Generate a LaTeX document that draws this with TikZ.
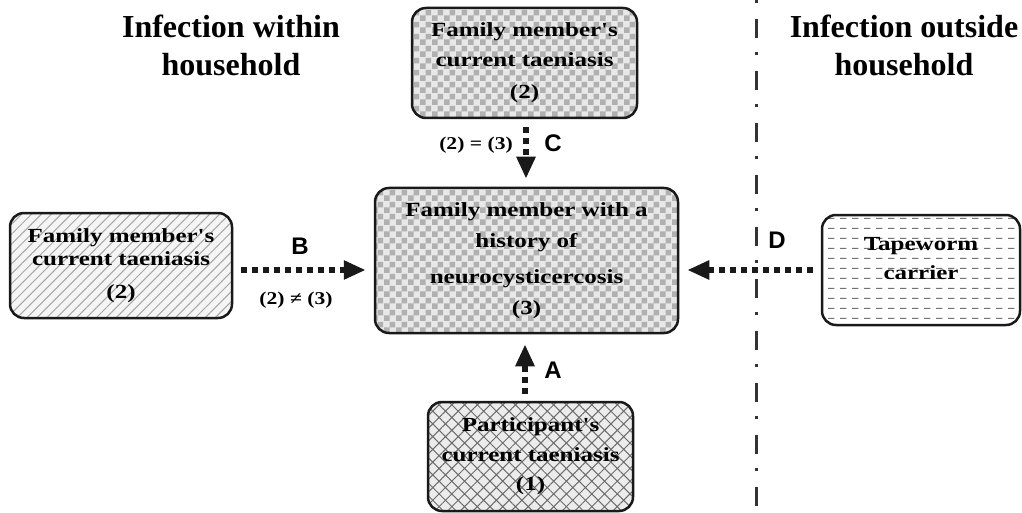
\documentclass[tikz,border=0pt]{standalone}
\usepackage{fontspec}
\setmainfont{Liberation Serif}
\newfontfamily\boxfont{Liberation Serif}[FakeStretch=1.25]
\newfontfamily\relfont{Liberation Serif}[FakeStretch=1.2]
\newfontfamily\letfont{Liberation Sans}
\usetikzlibrary{arrows.meta,patterns,patterns.meta}

\pgfdeclarepattern{
  name=chk,
  type=uncolored,
  bottom left={\pgfpoint{0pt}{0pt}},
  top right={\pgfpoint{12pt}{12pt}},
  tile size={\pgfpoint{12pt}{12pt}},
  code={
    \pgfpathrectangle{\pgfpoint{0pt}{0pt}}{\pgfpoint{6pt}{6pt}}
    \pgfpathrectangle{\pgfpoint{6pt}{6pt}}{\pgfpoint{6pt}{6pt}}
    \pgfusepath{fill}
  }
}
\pgfdeclarepattern{
  name=hdash,
  type=uncolored,
  bottom left={\pgfpoint{0pt}{0pt}},
  top right={\pgfpoint{12pt}{10pt}},
  tile size={\pgfpoint{12pt}{10pt}},
  code={
    \pgfsetlinewidth{1pt}
    \pgfpathmoveto{\pgfpoint{0pt}{5pt}}
    \pgfpathlineto{\pgfpoint{7pt}{5pt}}
    \pgfusepath{stroke}
  }
}

\tikzset{
  box/.style={draw=black!90, line width=2.5pt, rounded corners=14pt, inner sep=0pt,
    align=center, text=black},
  hdr/.style={align=center, inner sep=0pt, font=\bfseries\fontsize{32}{38}\selectfont},
  let/.style={inner sep=0pt, font=\letfont\bfseries\fontsize{24}{28}\selectfont},
  rel/.style={inner sep=0pt, font=\relfont\bfseries\fontsize{18}{21}\selectfont},
  arr/.style={draw=black!90, line width=6pt, dash pattern=on 6pt off 5pt,
    -{Triangle[width=18pt,length=22pt]}},
  sep/.style={draw=black!80, line width=3pt, dash pattern=on 3pt off 16pt on 19pt off 14pt},
  chkbox/.style={preaction={fill=gray!18}, pattern=chk, pattern color=gray!62}
}

\begin{document}
\begin{tikzpicture}[x=1pt,y=-1pt]
\useasboundingbox (0,0) rectangle (1022,513);

% headers
\node[hdr] (H1) at (231,45) {Infection within\\household};
\node[hdr] (H2) at (904,45) {Infection outside\\household};

% separator
\coordinate (sepTop) at (756,0);
\coordinate (sepBot) at (756,513);
\draw[sep] (sepTop) -- (sepBot);

% boxes
\node[box, minimum width=222pt, minimum height=105pt,
      preaction={fill=gray!8}, pattern={Lines[angle=45,distance=7pt,line width=1pt]}, pattern color=gray!70,
      font=\boxfont\bfseries\fontsize{20}{23}\selectfont]
  (L) at (121,265.5) {Family member's\\current taeniasis\\[10pt](2)};

\node[box, chkbox, minimum width=225pt, minimum height=110pt,
      font=\boxfont\bfseries\fontsize{20}{30}\selectfont]
  (T) at (524.5,63) {Family member's\\current taeniasis\\[2pt](2)};

\node[box, chkbox, minimum width=303pt, minimum height=145pt,
      font=\boxfont\bfseries\fontsize{20}{31}\selectfont]
  (C) at (526.5,260.5) {Family member with a\\history of\\[5pt]neurocysticercosis\\(3)};

\node[box, minimum width=205pt, minimum height=109pt,
      preaction={fill=gray!15}, pattern={Hatch[angle=45,distance=9pt,line width=1pt]}, pattern color=gray!85!black,
      font=\boxfont\bfseries\fontsize{20}{29.5}\selectfont]
  (P) at (530.5,456.5) {Participant's\\current taeniasis\\(1)};

\node[box, minimum width=198pt, minimum height=110pt,
      preaction={fill=white}, pattern=hdash, pattern color=gray!90!black,
      font=\boxfont\bfseries\fontsize{20}{29}\selectfont]
  (R) at (921,270) {Tapeworm\\carrier\\[-5pt]\mbox{}};

% connectors
\coordinate (yB) at (0,270);
\coordinate (xC) at (526,0);
\coordinate (xA) at (525,0);

\draw[arr, shorten <=8pt, shorten >=8pt] (L.east |- yB) -- (C.west |- yB);
\draw[arr, shorten <=8pt, shorten >=8pt] (T.south -| xC) -- (C.north -| xC);
\draw[arr, shorten <=8pt, shorten >=10pt] (P.north -| xA) -- (C.south -| xA);
\draw[arr, shorten <=8pt, shorten >=8pt] (R.west |- yB) -- (C.east |- yB);

% labels
\node[let] (lB) at (300,246) {B};
\node[rel] (rB) at (296,300) {(2) ≠ (3)};
\node[let] (lC) at (553,143) {C};
\node[rel] (rC) at (476,145) {(2) = (3)};
\node[let] (lA) at (553,370) {A};
\node[let] (lD) at (777,240) {D};
\end{tikzpicture}
\end{document}
